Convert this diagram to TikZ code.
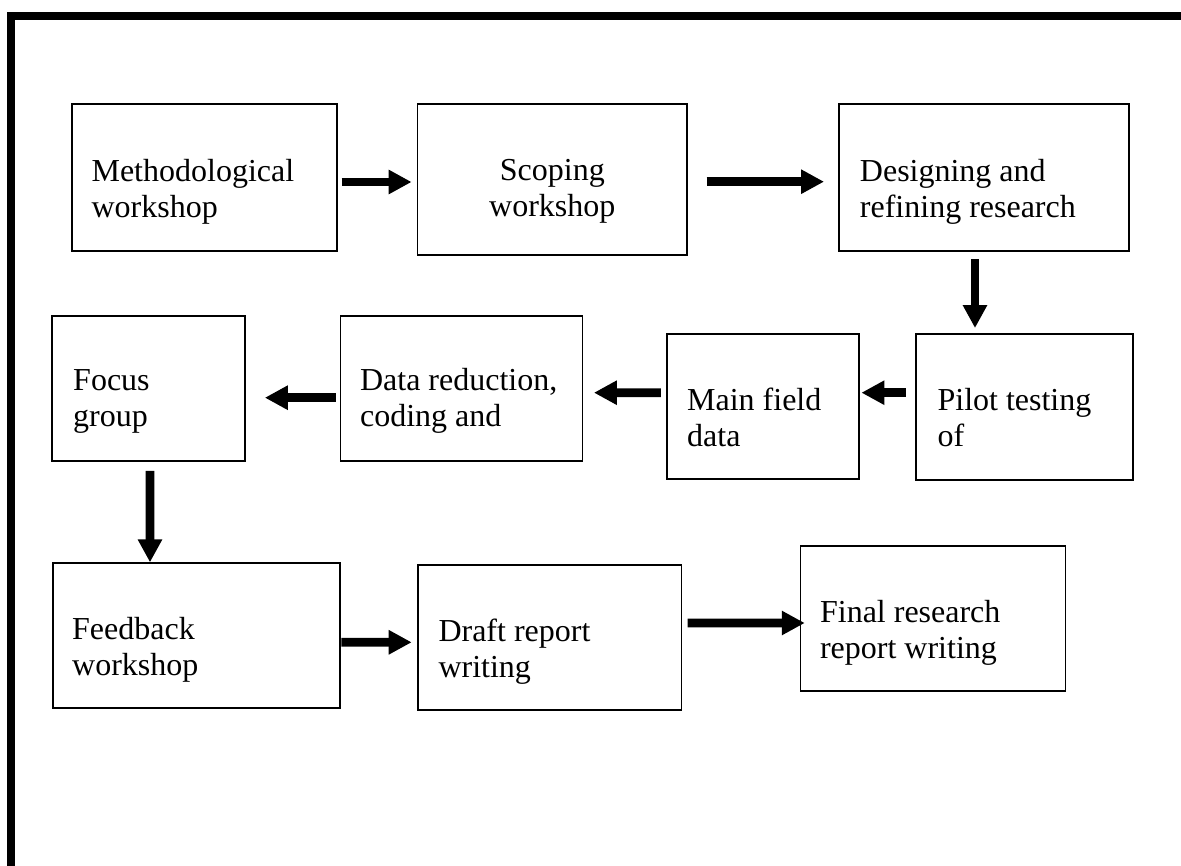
\documentclass[tikz,border=0pt]{standalone}
\usepackage{fontspec}
\setmainfont{Liberation Serif}
\usepackage{tikz}
\usetikzlibrary{arrows.meta,calc}
\tikzset{
  stage/.style={draw, line width=0.75pt, inner sep=0pt},
  lbl/.style={align=left, inner sep=0pt, font=\fontsize{12.8}{14.4}\selectfont},
  blk/.style={-{Triangle[length=9.2pt, width=9.2pt]}, line width=3.5pt},
}

\begin{document}
\begin{tikzpicture}[x=0.4pt, y=-0.4pt]
  \useasboundingbox (0,0) rectangle (1181,866);
  % frame
  \draw[line width=3.2pt] (10.5,866) -- (10.5,16) -- (1181,16);
  % boxes
  \node[stage, minimum width=106pt, minimum height=58.8pt] (meth) at (204.5,177.5) {};
  \node[stage, minimum width=107.8pt, minimum height=60.4pt] (scope) at (552.3,179.5) {};
  \node[stage, minimum width=115.7pt, minimum height=58.8pt] (design) at (984,177.5) {};
  \node[stage, minimum width=86.8pt, minimum height=58.4pt] (pilot) at (1024.5,407) {};
  \node[stage, minimum width=76.8pt, minimum height=58pt] (field) at (762.6,406.5) {};
  \node[stage, minimum width=96.8pt, minimum height=58pt] (reduce) at (461.5,388.2) {};
  \node[stage, minimum width=77.3pt, minimum height=58pt] (focus) at (148.3,388.2) {};
  \node[stage, minimum width=115.1pt, minimum height=58pt] (feedback) at (196.5,635.8) {};
  \node[stage, minimum width=105.4pt, minimum height=57.9pt] (draft) at (549.7,637.6) {};
  \node[stage, minimum width=106pt, minimum height=57.9pt] (final) at (933,618.3) {};
  % texts (base = last line)
  \node[lbl, anchor=base west] (meth-t) at ($(meth.north west)+(20,114)$) {Methodological\\workshop};
  \node[lbl, align=center, anchor=base] (scope-t) at ($(scope.north)+(0,113.5)$) {Scoping\\workshop};
  \node[lbl, anchor=base west] (design-t) at ($(design.north west)+(21,114)$) {Designing and\\refining research};
  \node[lbl, anchor=base west] (pilot-t) at ($(pilot.north west)+(22,113)$) {Pilot testing\\of};
  \node[lbl, anchor=base west] (field-t) at ($(field.north west)+(21,113)$) {Main field\\data};
  \node[lbl, anchor=base west] (reduce-t) at ($(reduce.north west)+(20,112)$) {Data reduction,\\coding and};
  \node[lbl, anchor=base west] (focus-t) at ($(focus.north west)+(22,112)$) {Focus\\group};
  \node[lbl, anchor=base west] (feedback-t) at ($(feedback.north west)+(20,113)$) {Feedback\\workshop};
  \node[lbl, anchor=base west] (draft-t) at ($(draft.north west)+(21,113.5)$) {Draft report\\writing};
  \node[lbl, anchor=base west] (final-t) at ($(final.north west)+(20,114)$) {Final research\\report writing};
  % arrows
  \draw[blk] ($(meth.east)+(3.6,4.5)$) -- ($(scope.west)+(-5,2.5)$);
  \draw[blk] ($(scope.east)+(18.7,2.2)$) -- ($(design.west)+(-14.4,4.2)$);
  \draw[blk] ($(design.south)+(-9,7)$) -- ($(pilot.north)+(-49.5,-5)$);
  \draw[blk] ($(pilot.west)+(-9.2,-14.3)$) -- ($(field.east)+(1.9,-13.8)$);
  \draw[blk] ($(field.west)+(-4.7,-13.8)$) -- ($(reduce.east)+(10.5,4.5)$);
  \draw[blk] ($(reduce.west)+(-3.8,9.5)$) -- ($(focus.east)+(19,9.5)$);
  \draw[blk] ($(focus.south)+(1.7,9.3)$) -- ($(feedback.north)+(-46.5,0)$);
  \draw[blk] ($(feedback.east)+(0,6.5)$) -- ($(draft.west)+(-5.3,4.7)$);
  \draw[blk] ($(draft.east)+(5.2,-14.6)$) -- ($(final.west)+(5.2,4.7)$);
\end{tikzpicture}
\end{document}
